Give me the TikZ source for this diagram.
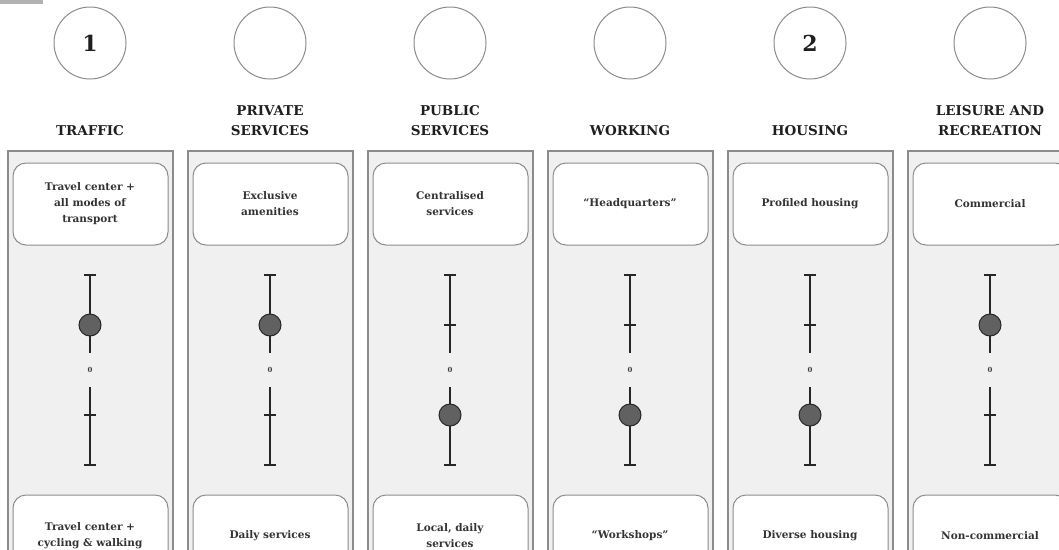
\documentclass[tikz,border=0pt]{standalone}
\usepackage{fontspec}
\setmainfont{DejaVu Serif}
\begin{document}
\begin{tikzpicture}[x=1pt,y=-1pt,
  panel/.style={draw=black!45, line width=1.2pt, fill=black!6},
  whitebox/.style={draw=black!45, line width=1pt, fill=white, rounded corners=13pt},
  numcircle/.style={circle, draw=black!45, line width=1pt, minimum size=72pt, inner sep=0pt, font=\fontsize{22}{22}\selectfont\bfseries, text=black!88},
  titletxt/.style={align=center, font=\fontsize{13.5}{19.5}\selectfont\bfseries, text=black!88},
  boxtxt/.style={align=center, font=\fontsize{10.5}{16}\selectfont\bfseries, text=black!80},
  zerolbl/.style={font=\fontsize{7}{7}\selectfont\bfseries, text=black!75, minimum height=34pt, inner sep=0pt},
  bar/.style={line width=1.5pt, draw=black!85},
  knob/.style={circle, draw=black!85, line width=1pt, fill=black!62, minimum size=22pt, inner sep=0pt}
]
\useasboundingbox (0,0) rectangle (1059,549);
\clip (0,0) rectangle (1059,549);
\fill[black!30] (0,0) rectangle (43,4);
\foreach \i/\num/\ttl/\topt/\bott/\pos in {
  0/1/TRAFFIC/{Travel center +\\all modes of\\transport}/{Travel center +\\cycling \& walking}/325,
  1//{PRIVATE\\SERVICES}/{Exclusive\\amenities}/{Daily services}/325,
  2//{PUBLIC\\SERVICES}/{Centralised\\services}/{Local, daily\\services}/415,
  3//WORKING/{``Headquarters''}/{``Workshops''}/415,
  4/2/HOUSING/{Profiled housing}/{Diverse housing}/415,
  5//{LEISURE AND\\RECREATION}/{Commercial}/{Non-commercial}/325}{
  \pgfmathsetmacro{\cx}{90+180*\i}
  \pgfmathsetmacro{\other}{\pos==325 ? 415 : 325}
  \draw[panel] (\cx-82,151) rectangle (\cx+83,600);
  \node[numcircle] (c\i) at (\cx,43) {\num};
  \node[titletxt, anchor=south] (t\i) at (\cx,139) {\ttl};
  \draw[whitebox] (\cx-77,163) rectangle (\cx+78,245);
  \node[boxtxt] (a\i) at (\cx,204) {\topt};
  \draw[whitebox] (\cx-77,495) rectangle (\cx+78,600);
  \node[boxtxt] (b\i) at (\cx,536) {\bott};
  \coordinate (top\i) at (\cx,275);
  \coordinate (bot\i) at (\cx,465);
  \coordinate (tick\i) at (\cx,\other);
  \node[zerolbl] (z\i) at (\cx,370) {0};
  \draw[bar] (top\i) -- (z\i.north);
  \draw[bar] (z\i.south) -- (bot\i);
  \draw[bar] ([xshift=-6pt]top\i) -- ([xshift=6pt]top\i);
  \draw[bar] ([xshift=-6pt]bot\i) -- ([xshift=6pt]bot\i);
  \draw[bar] ([xshift=-6pt]tick\i) -- ([xshift=6pt]tick\i);
  \node[knob] (k\i) at (\cx,\pos) {};
}
\end{tikzpicture}
\end{document}
